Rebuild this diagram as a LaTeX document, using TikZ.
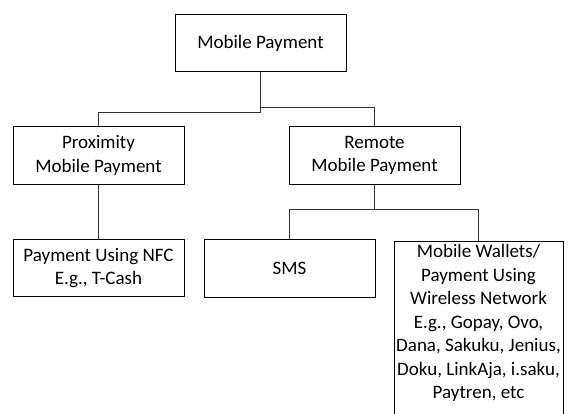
\documentclass[tikz,border=0pt]{standalone}
\usepackage{fontspec}
\setmainfont{Carlito}
\begin{document}
\begin{tikzpicture}[x=1pt,y=1pt]
      \useasboundingbox (0,0) rectangle (571,-413);
      \fontsize{19}{23.5}\selectfont
      \begin{scope}[every node/.style={draw,line width=0.8pt,align=center,minimum width=171pt,minimum height=57.5pt,inner sep=2pt}]
        \node (n_root) at (260.5,-43) {Mobile Payment};
        \node (n_prox) at (98.5,-155.5) {Proximity\\Mobile Payment};
        \node (n_rem) at (374.5,-155.5) {Remote\\Mobile Payment};
        \node (n_nfc) at (98.5,-268) {Payment Using NFC\\E.g., T-Cash};
        \node (n_sms) at (289.5,-268.5) {SMS};
        \node[anchor=north,minimum width=169pt,minimum height=0pt,inner sep=0pt] (n_wal) at (478.5,-241)
          {\parbox[c][185pt][t]{169pt}{\centering\vspace*{3pt}Mobile Wallets/\\Payment Using\\Wireless Network\\E.g., Gopay, Ovo,\\Dana, Sakuku, Jenius,\\Doku, LinkAja, i.saku,\\Paytren, etc}};
      \end{scope}
      \coordinate (j_l) at (260.5,-112);
      \coordinate (j_r) at (260.5,-107.7);
      \coordinate (j_s) at (374.5,-209.5);
      \begin{scope}[every path/.style={draw=black!80,line width=0.8pt}]
        \path (n_root.south) -- (j_l) -| (n_prox.north);
        \path (j_r) -| (n_rem.north);
        \path (n_prox.south) -- (n_nfc.north);
        \path (n_rem.south) -- (j_s) -| (n_sms.north);
        \path (j_s) -| (n_wal.north);
      \end{scope}
    \end{tikzpicture}
\end{document}
